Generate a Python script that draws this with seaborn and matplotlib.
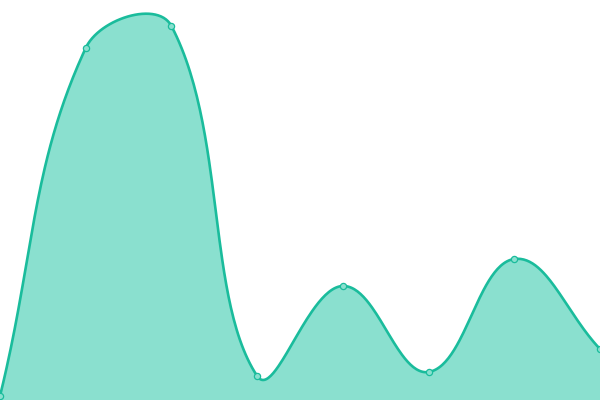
import numpy as np
import pandas as pd
import matplotlib
matplotlib.use("Agg")
import matplotlib.pyplot as plt
import seaborn as sns

# data
labels = ["A", "B", "C", "D", "E", "F", "G", "H"]
values = [1, 88, 93.5, 6, 28.5, 7, 35.25, 12.75]

LINE = "#1abc9c"
FILL = "#8ae0cf"
TENSION = 0.4
W, H = 600, 400
YMAX = 100


def to_px(x, y):
    return x * W / (len(values) - 1), H - y * H / YMAX


def spline_controls(pts, t):
    # chart.js style spline control points (pixel space)
    n = len(pts)
    ctrl = []
    for i in range(n):
        prev = pts[i - 1] if i > 0 else pts[i]
        cur = pts[i]
        nxt = pts[i + 1] if i < n - 1 else pts[i]
        d01 = np.hypot(cur[0] - prev[0], cur[1] - prev[1])
        d12 = np.hypot(nxt[0] - cur[0], nxt[1] - cur[1])
        tot = d01 + d12
        s01 = d01 / tot if tot else 0
        s12 = d12 / tot if tot else 0
        fa, fb = t * s01, t * s12
        cp_prev = (cur[0] - fa * (nxt[0] - prev[0]), cur[1] - fa * (nxt[1] - prev[1]))
        cp_next = (cur[0] + fb * (nxt[0] - prev[0]), cur[1] + fb * (nxt[1] - prev[1]))
        ctrl.append((cp_prev, cp_next))
    return ctrl


xs = np.arange(len(values))
pts = [to_px(x, y) for x, y in zip(xs, values)]
ctrl = spline_controls(pts, TENSION)

curve = []
tt = np.linspace(0, 1, 60)
for i in range(len(pts) - 1):
    p0 = np.array(pts[i])
    p1 = np.array(ctrl[i][1])
    p2 = np.array(ctrl[i + 1][0])
    p3 = np.array(pts[i + 1])
    seg = ((1 - tt) ** 3)[:, None] * p0 + (3 * (1 - tt) ** 2 * tt)[:, None] * p1 \
        + (3 * (1 - tt) * tt ** 2)[:, None] * p2 + (tt ** 3)[:, None] * p3
    curve.append(seg if i == 0 else seg[1:])
curve = np.vstack(curve)
cx = curve[:, 0] * (len(values) - 1) / W
cy = (H - curve[:, 1]) * YMAX / H

fig = plt.figure(figsize=(6, 4), dpi=100)
ax = fig.add_axes([0, 0, 1, 1])
ax.fill_between(cx, cy, 0, color=FILL, lw=0)
ax.plot(cx, cy, color=LINE, lw=1.9, solid_capstyle="round")
df = pd.DataFrame({"x": xs, "y": values})
sns.scatterplot(data=df, x="x", y="y", ax=ax, s=20, color=FILL,
                edgecolor=LINE, linewidth=0.9, zorder=5, clip_on=False)
ax.set_xlim(0, len(values) - 1)
ax.set_ylim(0, YMAX)
ax.axis("off")
fig.savefig("out.png", dpi=100)
